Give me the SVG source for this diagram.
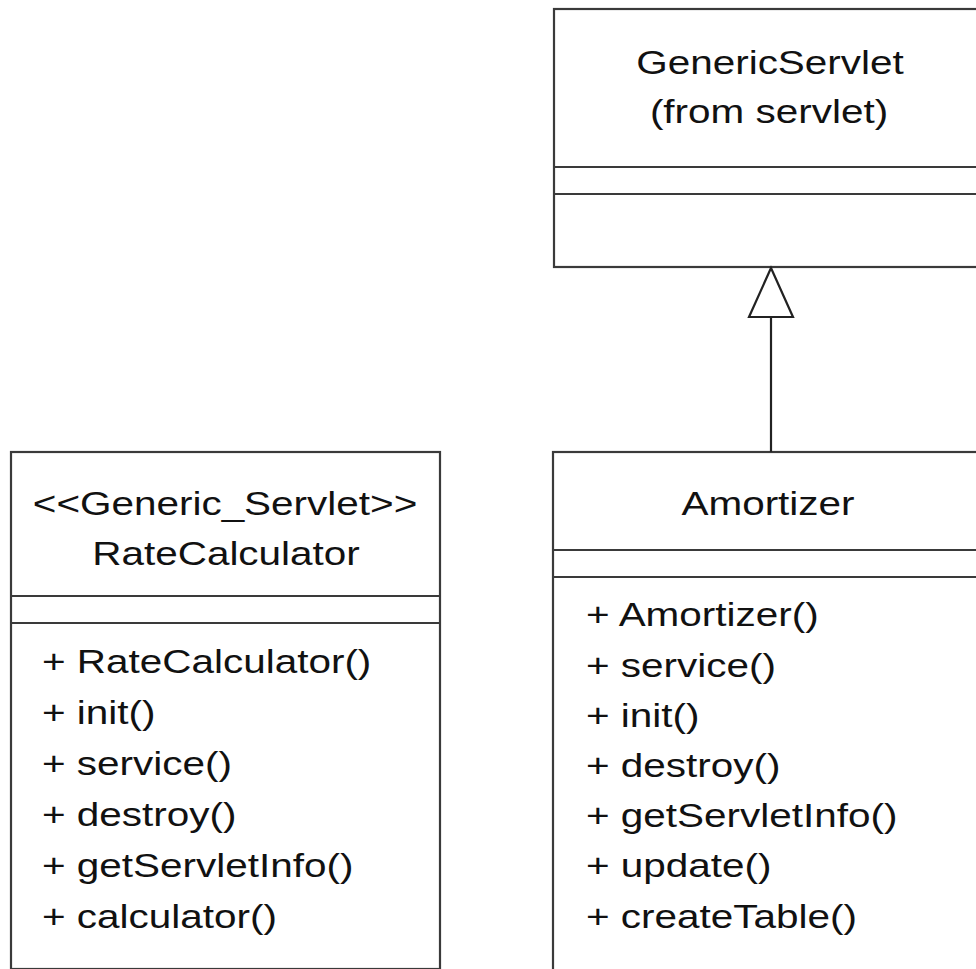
<svg xmlns="http://www.w3.org/2000/svg" width="976" height="969" viewBox="0 0 976 969">
<style>
.box{fill:#fff;stroke:#3a3a3a;stroke-width:2.2}
.div{stroke:#3a3a3a;stroke-width:2.2}
text{font-family:"Liberation Sans",Arial,sans-serif;font-size:34px;fill:#111}
.c{text-anchor:middle}
.conn{stroke:#222;stroke-width:2.2;fill:none}
</style>
<rect width="976" height="969" fill="#fff"/>
<g id="GenericServlet">
<rect class="box" x="554" y="9" width="460" height="258"/>
<line class="div" x1="554" y1="167" x2="1014" y2="167"/>
<line class="div" x1="554" y1="194" x2="1014" y2="194"/>
<g transform="translate(770,74) scale(1.19,1)"><text class="c" x="0" y="0">GenericServlet</text></g>
<g transform="translate(769,123) scale(1.19,1)"><text class="c" x="0" y="0">(from servlet)</text></g>
</g>
<g id="RateCalculator">
<rect class="box" x="11" y="452" width="429" height="517"/>
<line class="div" x1="11" y1="596" x2="440" y2="596"/>
<line class="div" x1="11" y1="623" x2="440" y2="623"/>
<g transform="translate(225,515) scale(1.19,1)"><text class="c" x="0" y="0">&lt;&lt;Generic_Servlet&gt;&gt;</text></g>
<g transform="translate(226,565) scale(1.19,1)"><text class="c" x="0" y="0">RateCalculator</text></g>
<g transform="translate(42,0) scale(1.19,1)">
<text x="0" y="673">+ RateCalculator()</text>
<text x="0" y="724">+ init()</text>
<text x="0" y="775">+ service()</text>
<text x="0" y="826">+ destroy()</text>
<text x="0" y="877">+ getServletInfo()</text>
<text x="0" y="928">+ calculator()</text>
</g>
</g>
<g id="Amortizer">
<rect class="box" x="553" y="452" width="460" height="540"/>
<line class="div" x1="553" y1="550" x2="1013" y2="550"/>
<line class="div" x1="553" y1="577" x2="1013" y2="577"/>
<g transform="translate(768,515) scale(1.19,1)"><text class="c" x="0" y="0">Amortizer</text></g>
<g transform="translate(586,0) scale(1.19,1)">
<text x="0" y="626">+ Amortizer()</text>
<text x="0" y="677">+ service()</text>
<text x="0" y="727">+ init()</text>
<text x="0" y="777">+ destroy()</text>
<text x="0" y="827">+ getServletInfo()</text>
<text x="0" y="877">+ update()</text>
<text x="0" y="928">+ createTable()</text>
</g>
</g>
<g id="connectors">
<line class="conn" x1="771" y1="317" x2="771" y2="452"/>
<polygon class="conn" points="771,268 749,317 793,317" fill="#fff"/>
</g>
</svg>
